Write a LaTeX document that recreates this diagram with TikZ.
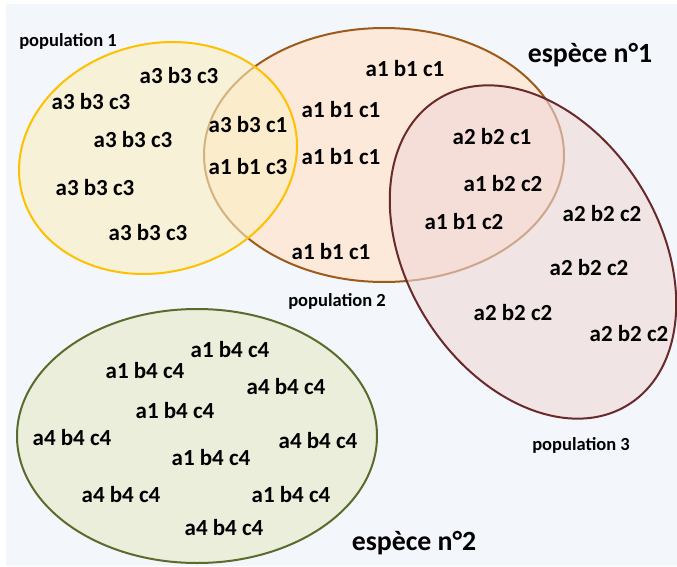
\documentclass[tikz,border=0pt]{standalone}
\usepackage{fontspec}
\setmainfont{Carlito}
\usepackage{xcolor}
\definecolor{bgpale}{HTML}{F3F6FB}
\definecolor{gold}{HTML}{FFC000}
\definecolor{goldfill}{HTML}{FBEEC1}
\definecolor{rust}{HTML}{9C5B1A}
\definecolor{peach}{HTML}{FDE9DA}
\definecolor{maroon}{HTML}{6A2A2A}
\definecolor{rosefill}{HTML}{F0D8D6}
\definecolor{olive}{HTML}{5A6B2C}
\definecolor{sage}{HTML}{EAEEDB}
\usepackage{tikz}
\usetikzlibrary{positioning}
\tikzset{
    member/.style={font=\bfseries\fontsize{23}{26}\selectfont, inner sep=0pt},
    poplabel/.style={font=\bfseries\fontsize{18.5}{21}\selectfont, inner sep=0pt},
    species/.style={font=\bfseries\fontsize{27.8}{32}\selectfont, inner sep=0pt},
    popline/.style={line width=2pt}
}
\begin{document}
\begin{tikzpicture}[x=1pt, y=-1pt]
  \useasboundingbox (0,0) rectangle (677,567);
  \fill[bgpale] (6,4) rectangle (677,566);

  % Populations (drawn back to front)
  \draw[popline, draw=rust, fill=peach] (384,155) ellipse [x radius=180, y radius=127];
  \draw[popline, draw=gold, fill=goldfill, fill opacity=0.6, rotate around={15:(158,158)}] (158,158) ellipse [x radius=140.6, y radius=114];
  \draw[popline, draw=maroon, fill=rosefill, fill opacity=0.6, rotate around={-58:(533,252)}] (533,252) ellipse [x radius=180, y radius=126];
  \draw[popline, draw=olive, fill=sage] (197,436) ellipse [x radius=180, y radius=127];

  % Population 1
  \node[member] (p1a) at (179,76) {a3 b3 c3};
  \node[member] (p1b) at (91,102) {a3 b3 c3};
  \node[member] (p1c) at (133,140) {a3 b3 c3};
  \node[member] (p1d) at (95,188) {a3 b3 c3};
  \node[member] (p1e) at (148,233) {a3 b3 c3};

  % Shared by populations 1 and 2
  \node[member] (p12a) at (248,125) {a3 b3 c1};
  \node[member] (p12b) at (248,167) {a1 b1 c3};

  % Population 2
  \node[member] (p2a) at (405,69) {a1 b1 c1};
  \node[member] (p2b) at (341,110) {a1 b1 c1};
  \node[member] (p2c) at (341,157) {a1 b1 c1};
  \node[member] (p2d) at (331,252) {a1 b1 c1};

  % Shared by populations 2 and 3
  \node[member] (p23a) at (492,137) {a2 b2 c1};
  \node[member] (p23b) at (503,184) {a1 b2 c2};
  \node[member] (p23c) at (464,222) {a1 b1 c2};

  % Population 3
  \node[member] (p3a) at (602,214) {a2 b2 c2};
  \node[member] (p3b) at (589,268) {a2 b2 c2};
  \node[member] (p3c) at (513,313) {a2 b2 c2};
  \node[member] (p3d) at (629,334) {a2 b2 c2};

  % Species 2
  \node[member] (s2a) at (230,350) {a1 b4 c4};
  \node[member] (s2b) at (145,371) {a1 b4 c4};
  \node[member] (s2c) at (286,387) {a4 b4 c4};
  \node[member] (s2d) at (175,411) {a1 b4 c4};
  \node[member] (s2e) at (72,438) {a4 b4 c4};
  \node[member] (s2f) at (318,441) {a4 b4 c4};
  \node[member] (s2g) at (211,458) {a1 b4 c4};
  \node[member] (s2h) at (121,495) {a4 b4 c4};
  \node[member] (s2i) at (291,495) {a1 b4 c4};
  \node[member] (s2j) at (224,528) {a4 b4 c4};

  % Labels
  \node[poplabel] (lab1) at (68,41) {population 1};
  \node[poplabel] (lab2) at (337,301) {population 2};
  \node[poplabel] (lab3) at (581,445) {population 3};
  \node[species] (spec1) at (590,55) {espèce n°1};
  \node[species] (spec2) at (414,543) {espèce n°2};
\end{tikzpicture}
\end{document}
